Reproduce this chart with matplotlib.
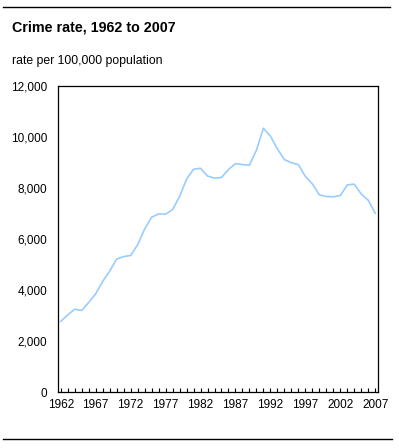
import matplotlib
matplotlib.use("Agg")
import matplotlib.pyplot as plt
from matplotlib.lines import Line2D
from matplotlib.ticker import FuncFormatter, MultipleLocator

plt.rcParams['font.family'] = ['Liberation Sans', 'DejaVu Sans']

years = list(range(1962, 2008))
rates = [2771, 3022, 3245, 3199, 3511, 3850, 4336, 4737, 5212, 5311,
         5355, 5773, 6388, 6852, 6984, 6971, 7154, 7666, 8343, 8736,
         8773, 8470, 8387, 8413, 8727, 8957, 8919, 8892, 9485, 10342,
         10036, 9531, 9114, 8993, 8914, 8453, 8160, 7733, 7666, 7655,
         7705, 8121, 8151, 7761, 7518, 7009]
xtick_labels = [1962, 1967, 1972, 1977, 1982, 1987, 1992, 1997, 2002, 2007]
title = "Crime rate, 1962 to 2007"
subtitle = "rate per 100,000 population"

W, H = 399, 448
fig = plt.figure(figsize=(W / 100, H / 100), dpi=100)

left, right, top, bottom = 58.3, 377.7, 86, 392
ax = fig.add_axes([left / W, 1 - bottom / H, (right - left) / W, (bottom - top) / H])
ax.plot(years, rates, color='#99CCFF', lw=1.2, solid_joinstyle='round')
ax.set_xlim(1961.65, 2007.35)
ax.set_ylim(0, 12000)

ax.set_xticks(xtick_labels)
ax.xaxis.set_minor_locator(MultipleLocator(1))
ax.tick_params(axis='x', which='both', direction='in', length=3, width=0.8,
               labelsize=8.5, pad=5, colors='black')
ax.tick_params(axis='y', length=0, labelsize=8.5, pad=8)
ax.yaxis.set_major_locator(MultipleLocator(2000))
ax.yaxis.set_major_formatter(FuncFormatter(lambda v, p: f"{int(v):,}"))
for s in ax.spines.values():
    s.set_linewidth(0.9)

fig.text(12 / W, 1 - 28 / H, title, fontsize=10.3, fontweight='bold', va='center', ha='left')
fig.text(12 / W, 1 - 61 / H, subtitle, fontsize=8.8, va='center', ha='left')

fig.add_artist(Line2D([3 / W, 390 / W], [1 - 7 / H, 1 - 7 / H], color='black', lw=1))
fig.add_artist(Line2D([3 / W, 392 / W], [1 - 439 / H, 1 - 439 / H], color='black', lw=1))

fig.savefig("out.png", dpi=100)
